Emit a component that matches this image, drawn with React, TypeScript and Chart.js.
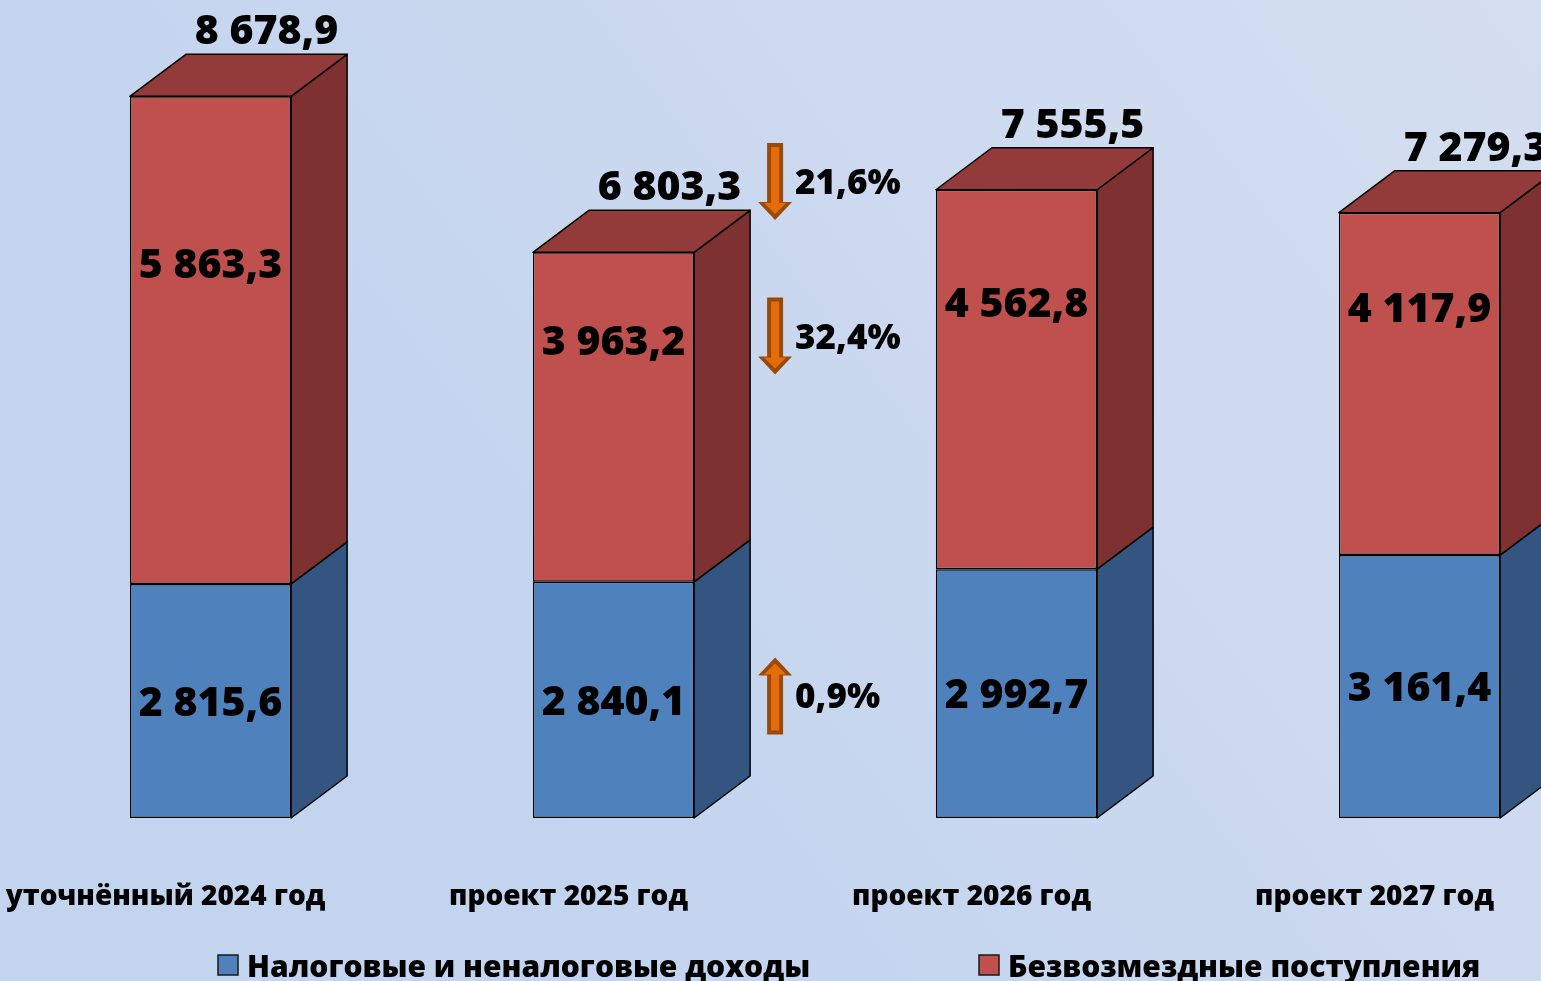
import React, { useEffect, useRef } from "react";
import { Chart, registerables } from "chart.js";
Chart.register(...registerables);

const categories = ["уточнённый 2024 год", "проект 2025 год", "проект 2026 год", "проект 2027 год"];
const taxRevenue = [2815.6, 2840.1, 2992.7, 3161.4];
const grants = [5863.3, 3963.2, 4562.8, 4117.9];
const seriesNames = ["Налоговые и неналоговые доходы", "Безвозмездные поступления"];
// change 2025 vs 2024: total, grants, tax revenue
const changeLabels = ["21,6%", "32,4%", "0,9%"];
const changeUp = [false, false, true];

const FONT = "'Open Sans'";
const W = 800;
const FRONT = ["#4f81bd", "#c0504d"];
const SIDE = ["#34557f", "#7d3130"];
const TOP = ["#3f6797", "#933b3a"];
const DX = 56;
const DY = -42;

const fmt = (v: number) => {
  const [i, d] = v.toFixed(1).split(".");
  return i.replace(/\B(?=(\d{3})+(?!\d))/g, " ") + "," + d;
};

function drawArrow(ctx: CanvasRenderingContext2D, cx: number, cy: number, up: boolean) {
  const len = 77, head = 18, hw = 17, sw = 8;
  const dir = up ? -1 : 1;
  const tail = cy - (dir * len) / 2;
  const tip = cy + (dir * len) / 2;
  const hb = tip - dir * head;
  ctx.beginPath();
  ctx.moveTo(cx - sw, tail);
  ctx.lineTo(cx + sw, tail);
  ctx.lineTo(cx + sw, hb);
  ctx.lineTo(cx + hw, hb);
  ctx.lineTo(cx, tip);
  ctx.lineTo(cx - hw, hb);
  ctx.lineTo(cx - sw, hb);
  ctx.closePath();
  ctx.fillStyle = "#9a4a07";
  ctx.fill();
  const isw = 4, ihw = 11;
  const itail = tail + dir * 4;
  const itip = tip - dir * 6;
  const ihb = hb + dir * 1;
  ctx.beginPath();
  ctx.moveTo(cx - isw, itail);
  ctx.lineTo(cx + isw, itail);
  ctx.lineTo(cx + isw, ihb);
  ctx.lineTo(cx + ihw, ihb);
  ctx.lineTo(cx, itip);
  ctx.lineTo(cx - ihw, ihb);
  ctx.lineTo(cx - isw, ihb);
  ctx.closePath();
  ctx.fillStyle = "#e66c0a";
  ctx.fill();
}

const bar3d = {
  id: "bar3d",
  beforeDraw(chart: any) {
    const ctx = chart.ctx as CanvasRenderingContext2D;
    const g = ctx.createLinearGradient(500, 800, 1541, 0);
    g.addColorStop(0, "#c3d4ef");
    g.addColorStop(1, "#d5def0");
    ctx.save();
    ctx.fillStyle = g;
    ctx.fillRect(0, 0, chart.width, chart.height);
    ctx.restore();
  },
  afterDatasetsDraw(chart: any) {
    const ctx = chart.ctx as CanvasRenderingContext2D;
    const n = chart.data.datasets.length;
    chart.data.datasets.forEach((ds: any, di: number) => {
      const meta = chart.getDatasetMeta(di);
      meta.data.forEach((el: any) => {
        const { x, y, base, width } = el.getProps(["x", "y", "base", "width"], true);
        const l = x - width / 2, r = x + width / 2;
        const t = Math.min(y, base), b = Math.max(y, base);
        ctx.save();
        ctx.lineWidth = 1.5;
        ctx.strokeStyle = "#000";
        ctx.lineJoin = "round";
        ctx.beginPath();
        ctx.moveTo(r, b);
        ctx.lineTo(r + DX, b + DY);
        ctx.lineTo(r + DX, t + DY);
        ctx.lineTo(r, t);
        ctx.closePath();
        ctx.fillStyle = SIDE[di];
        ctx.fill();
        ctx.stroke();
        if (di === n - 1) {
          ctx.beginPath();
          ctx.moveTo(l, t);
          ctx.lineTo(l + DX, t + DY);
          ctx.lineTo(r + DX, t + DY);
          ctx.lineTo(r, t);
          ctx.closePath();
          ctx.fillStyle = TOP[di];
          ctx.fill();
          ctx.stroke();
        }
        ctx.restore();
      });
    });
  },
  afterDraw(chart: any) {
    const ctx = chart.ctx as CanvasRenderingContext2D;
    const m0 = chart.getDatasetMeta(0);
    const m1 = chart.getDatasetMeta(1);
    const vs = 41;
    ctx.save();
    ctx.fillStyle = "#000";
    ctx.textAlign = "center";
    ctx.textBaseline = "alphabetic";
    ctx.font = `${W} ${vs}px ${FONT}`;
    const rowCenters: number[] = [];
    categories.forEach((_, i) => {
      const e0 = m0.data[i].getProps(["x", "y", "base"], true);
      const e1 = m1.data[i].getProps(["x", "y", "base"], true);
      const blueC = (e0.y + e0.base) / 2;
      const redC = (e1.y + e1.base) / 2 - 77;
      ctx.fillText(fmt(taxRevenue[i]), e0.x, blueC + 0.36 * vs);
      ctx.fillText(fmt(grants[i]), e1.x, redC + 0.36 * vs);
      const totBase = e1.y + DY - 10;
      ctx.fillText(fmt(taxRevenue[i] + grants[i]), e1.x + DX, totBase);
      if (i === 1) {
        rowCenters.push(totBase - 0.36 * vs, redC, blueC);
      }
    });
    const e = m1.data[1].getProps(["x", "width"], true);
    const ax = e.x + e.width / 2 + DX + 25;
    ctx.font = `${W} 35px ${FONT}`;
    ctx.textAlign = "left";
    rowCenters.forEach((c, k) => {
      const cy = c - 4;
      drawArrow(ctx, ax, cy, changeUp[k]);
      ctx.fillStyle = "#000";
      ctx.fillText(changeLabels[k], ax + 20, cy + 12.5);
    });
    const lx = [218, 979];
    ctx.font = `${W} 30px ${FONT}`;
    seriesNames.forEach((name, k) => {
      ctx.fillStyle = FRONT[k];
      ctx.fillRect(lx[k], 955, 20, 20);
      ctx.lineWidth = 1.5;
      ctx.strokeStyle = "#1a1a1a";
      ctx.strokeRect(lx[k], 955, 20, 20);
      ctx.fillStyle = "#000";
      ctx.fillText(name, lx[k] + 29, 977);
    });
    ctx.restore();
  },
};

export default function App() {
  const ref = useRef<HTMLCanvasElement>(null);
  useEffect(() => {
    if (!ref.current) return;
    const chart = new Chart(ref.current, {
      type: "bar",
      data: {
        labels: categories,
        datasets: [
          {
            label: seriesNames[0],
            data: taxRevenue,
            backgroundColor: FRONT[0],
            borderColor: "#000",
            borderWidth: 1.5,
            borderSkipped: false,
          },
          {
            label: seriesNames[1],
            data: grants,
            backgroundColor: FRONT[1],
            borderColor: "#000",
            borderWidth: 1.5,
            borderSkipped: false,
          },
        ],
      },
      options: {
        responsive: false,
        animation: false,
        devicePixelRatio: 1,
        layout: { padding: { left: 9, top: 53, right: 0, bottom: 0 } },
        datasets: { bar: { categoryPercentage: 1, barPercentage: 0.4 } },
        plugins: { legend: { display: false }, tooltip: { enabled: false } },
        scales: {
          x: {
            stacked: true,
            grid: { display: false, drawTicks: false },
            border: { display: false },
            ticks: {
              color: "#000",
              font: { family: FONT, size: 28, weight: W },
              padding: 62,
              labelOffset: -45,
              maxRotation: 0,
              autoSkip: false,
            },
            afterFit: (s: any) => {
              s.height = 163;
              s.paddingLeft = 0;
              s.paddingRight = 0;
            },
          },
          y: { display: false, stacked: true, min: 0, max: 9200 },
        },
      },
      plugins: [bar3d],
    } as any);
    return () => chart.destroy();
  }, []);
  return (
    <div style={{ position: "fixed", left: 0, top: 0, width: 1541, height: 981, overflow: "hidden" }}>
      <canvas ref={ref} width={1621} height={981} style={{ display: "block" }} />
    </div>
  );
}
